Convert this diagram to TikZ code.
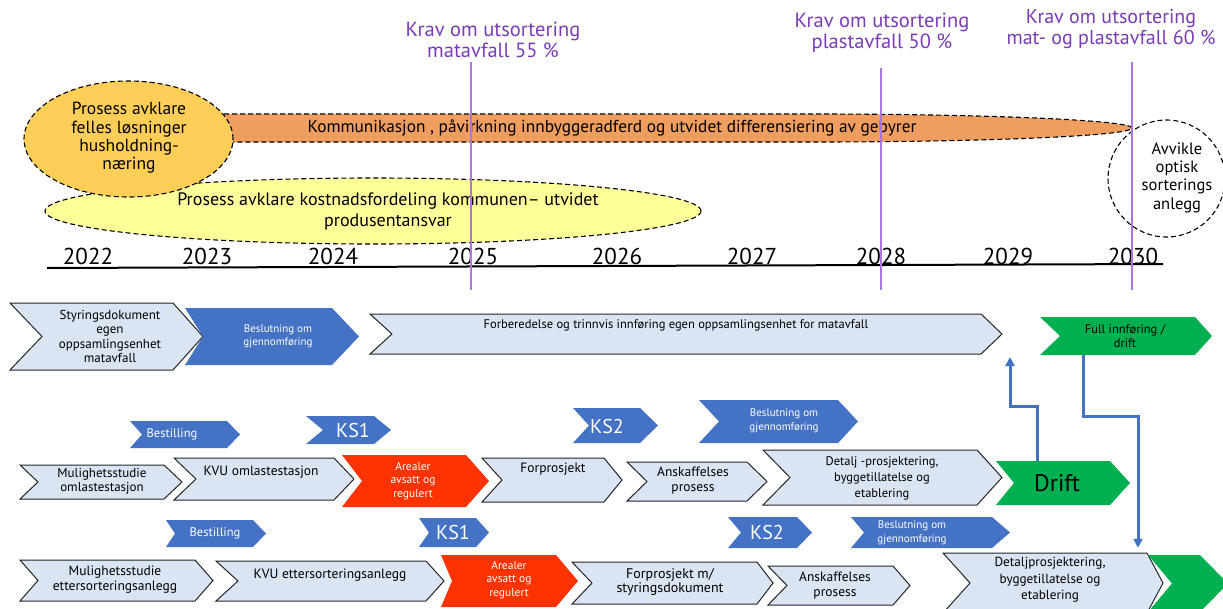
\documentclass[tikz,border=0pt]{standalone}
\usepackage{fontspec}
\setmainfont{PT Sans}
\usetikzlibrary{shapes.geometric,arrows.meta}

\definecolor{kravpurple}{RGB}{122,60,182}
\definecolor{kravline}{RGB}{170,120,220}
\definecolor{goldfill}{RGB}{255,206,86}
\definecolor{orangefill}{RGB}{239,158,96}
\definecolor{yellowfill}{RGB}{255,255,153}
\definecolor{boxblue}{RGB}{218,228,243}
\definecolor{midblue}{RGB}{68,114,196}
\definecolor{alertred}{RGB}{255,51,0}
\definecolor{okgreen}{RGB}{0,176,80}

% chevron: name, style, left x, tip x, top y, bottom y, notch x, shoulder x
\newcommand\chevshape[8]{%
  \pgfmathsetmacro\chw{#4-#3}\pgfmathsetmacro\chh{#6-#5}%
  \node[inner sep=0, minimum width=\chw pt, minimum height=\chh pt] (#1) at ({(#3+#4)/2},{(#5+#6)/2}) {};
  \path[#2] (#3,#5) -- (#8,#5) -- (#4,{(#5+#6)/2}) -- (#8,#6) -- (#3,#6) -- (#7,{(#5+#6)/2}) -- cycle;
}

\tikzset{
  lb/.style={fill=boxblue, draw=black!85, line width=1pt},
  bb/.style={fill=midblue},
  rb/.style={fill=alertred},
  gb/.style={fill=okgreen},
  btxt/.style={align=center, inner sep=0, font=\fontsize{13.5}{15}\selectfont},
  wtxt/.style={align=center, inner sep=0, text=white, font=\fontsize{11}{13.5}\selectfont},
  redtxt/.style={align=center, inner sep=0, text=white, font=\fontsize{11.5}{13.2}\selectfont},
  ordertxt/.style={inner sep=0, text=white, font=\fontsize{12.5}{13}\selectfont},
  kstxt/.style={text=white, inner sep=0, font=\fontsize{20}{22}\selectfont},
  yeartxt/.style={anchor=base, inner sep=0, font=\fontsize{23}{25}\selectfont},
  kravtxt/.style={text=kravpurple, align=center, inner sep=0, font=\fontsize{20.5}{21.5}\selectfont},
  kravrule/.style={draw=kravline, line width=1.1pt},
  dashedborder/.style={draw=black, dash pattern=on 5pt off 3pt, line width=1.1pt},
  ovaltxt/.style={align=center, inner sep=0, font=\fontsize{17.3}{18.3}\selectfont},
  conn/.style={draw=midblue, line width=3pt, -{Triangle[length=9pt,width=9pt]}},
}

\begin{document}
\begin{tikzpicture}[x=1pt, y=-1pt]
\useasboundingbox (0,0) rectangle (1223,608);
\clip (0,0) rectangle (1223,608);

% milestones
\node[kravtxt] (k25) at (493,40) {Krav om utsortering\\matavfall 55 \%};
\node[kravtxt] (k28) at (882,33) {Krav om utsortering\\plastavfall 50 \%};
\node[kravtxt, font=\fontsize{20}{21.5}\selectfont] (k30) at (1111,29) {Krav om utsortering\\mat- og plastavfall 60 \%};

% ovals
\node[ellipse, dashedborder, fill=yellowfill, minimum width=656pt, minimum height=66pt] (kost) at (373,211) {};
\node[ovaltxt, font=\fontsize{18}{21}\selectfont] (kost-t) at (388,211) {Prosess avklare kostnadsfordeling kommunen– utvidet\\produsentansvar};
\path[dashedborder, fill=orangefill] (200,114) -- (812,114)
  arc[start angle=90, end angle=-90, x radius=320pt, y radius=14pt] -- (200,142) -- cycle;
\node[ovaltxt] (komm) at (612,128) {Kommunikasjon , påvirkning innbyggeradferd og utvidet differensiering av gebyrer};
\node[ellipse, dashedborder, fill=goldfill, minimum width=209pt, minimum height=116pt] (fell) at (128.5,139) {};
\node[ovaltxt, font=\fontsize{17.5}{18.3}\selectfont] (fell-t) at (129,138) {Prosess avklare\\felles løsninger\\husholdning-\\næring};
\node[circle, dashedborder, minimum size=117pt] (avv) at (1166.5,178.5) {};
\node[ovaltxt, font=\fontsize{16.5}{18.3}\selectfont] (avv-t) at (1177,177.5) {Avvikle\\optisk\\sorterings\\anlegg};

% time axis
\draw[line width=2pt] (47,268) -- (1163,264);
\foreach \yr/\xx in {2022/88,2023/207,2024/333,2025/473,2026/617,2027/752,2028/881,2029/1008,2030/1133}
  \node[yeartxt] (y\yr) at (\xx,264) {\yr};

\draw[kravrule] (471,62) -- (471,290);
\draw[kravrule] (881,68) -- (881,290);
\draw[kravrule] (1132,62) -- (1132,290);

% row 1: food waste collection
\chevshape{styr}{lb}{10}{203}{303}{370}{42}{173}
\node[btxt, font=\fontsize{13}{14.5}\selectfont] (styr-t) at (110,336.5) {Styringsdokument\\egen\\oppsamlingsenhet\\matavfall};
\chevshape{besl1}{bb}{185}{359}{308}{365}{203}{332}
\node[wtxt] (besl1-t) at (278,336.5) {Beslutning om\\gjennomføring};
\chevshape{forb}{lb}{370}{1002}{314}{354}{392}{981}
\node[btxt, font=\fontsize{12.5}{14.5}\selectfont] (forb-t) at (676,325) {Forberedelse og trinnvis innføring egen oppsamlingsenhet for matavfall};
\chevshape{full}{gb}{1040}{1212}{317}{355}{1060}{1195}
\node[btxt, font=\fontsize{12.5}{14}\selectfont] (full-t) at (1125,336) {Full innføring /\\drift};

% row 2: milestones for transfer station
\chevshape{best1}{bb}{130}{240}{421}{448}{142}{227}
\node[ordertxt] (best1-t) at (172,434) {Bestilling};
\chevshape{ks1a}{bb}{306}{391}{416}{444}{323}{374}
\node[kstxt] (ks1a-t) at (353,430) {KS1};
\chevshape{ks2a}{bb}{573}{658}{408}{443}{589}{640}
\node[kstxt] (ks2a-t) at (607,426) {KS2};
\chevshape{besl2}{bb}{699}{858}{400}{443}{719}{838}
\node[wtxt] (besl2-t) at (784,421) {Beslutning om\\gjennomføring};

% row 3: transfer station
\chevshape{mul1}{lb}{20}{182}{465}{499}{38}{164}
\node[btxt, font=\fontsize{13}{14}\selectfont] (mul1-t) at (102,481) {Mulighetsstudie\\omlastestasjon};
\chevshape{kvu1}{lb}{174}{354}{458}{500}{196}{334}
\node[btxt] (kvu1-t) at (261,472) {KVU omlastestasjon};
\chevshape{are1}{rb}{342}{489}{455}{507}{362}{466}
\node[redtxt] (are1-t) at (413,481) {Arealer\\avsatt og\\regulert};
\chevshape{forp1}{lb}{482}{622}{458}{502}{502}{604}
\node[btxt] (forp1-t) at (553,469) {Forprosjekt};
\chevshape{ansk1}{lb}{627}{767}{462}{501}{647}{747}
\node[btxt] (ansk1-t) at (693,480.5) {Anskaffelses\\prosess};
\chevshape{det1}{lb}{763}{1002}{450}{505}{790}{977}
\node[btxt, font=\fontsize{12.5}{16}\selectfont] (det1-t) at (882,478) {Detalj -prosjektering,\\byggetillatelse og\\etablering};
\chevshape{drift}{gb}{996}{1130}{461}{505}{1014}{1110}
\node[inner sep=0, font=\fontsize{24}{26}\selectfont] (drift-t) at (1057,483) {Drift};

% row 4: milestones for post-sorting plant
\chevshape{best2}{bb}{166}{266}{520}{547}{175}{253}
\node[ordertxt] (best2-t) at (215,533) {Bestilling};
\chevshape{ks1b}{bb}{419}{489}{518}{547}{429}{476}
\node[kstxt] (ks1b-t) at (453,532) {KS1};
\chevshape{ks2b}{bb}{728}{812}{517}{548}{741}{797}
\node[kstxt] (ks2b-t) at (767,532) {KS2};
\chevshape{besl3}{bb}{851}{1010}{517}{548}{864}{992}
\node[wtxt] (besl3-t) at (912,533) {Beslutning om\\gjennomføring};

% row 5: post-sorting plant
\chevshape{mul2}{lb}{20}{213}{560}{601}{38}{195}
\node[btxt] (mul2-t) at (115,580) {Mulighetsstudie\\ettersorteringsanlegg};
\chevshape{kvu2}{lb}{216}{444}{561}{601}{238}{426}
\node[btxt] (kvu2-t) at (330,575) {KVU ettersorteringsanlegg};
\chevshape{are2}{rb}{441}{578}{555}{607}{452}{556}
\node[redtxt] (are2-t) at (509,580) {Arealer\\avsatt og\\regulert};
\chevshape{forp2}{lb}{572}{773}{562}{604}{592}{757}
\node[btxt, font=\fontsize{14}{14}\selectfont] (forp2-t) at (670,582) {Forprosjekt m/\\styringsdokument};
\chevshape{ansk2}{lb}{768}{910}{566}{605}{787}{893}
\node[btxt] (ansk2-t) at (835,585.5) {Anskaffelses\\prosess};
\chevshape{det2}{lb}{943}{1163}{553}{613}{970}{1147}
\node[btxt, font=\fontsize{13.2}{16.5}\selectfont] (det2-t) at (1050,580) {Detaljprosjektering,\\byggetillatelse og\\etablering};
\chevshape{gend}{gb}{1148}{1228}{555}{612}{1172}{1200}

% links between the tracks
\coordinate (u1) at (1037,406);
\coordinate (u2) at (1010,406);
\coordinate (u3) at (1010,357);
\draw[conn] (u1 |- drift.north) -- (u1) -- (u2) -- (u3);
\coordinate (d1) at (1083,416);
\coordinate (d2) at (1138,416);
\draw[conn, shorten >=7pt] (d1 |- full.south) -- (d1) -- (d2) -- (d2 |- gend.north);
\end{tikzpicture}
\end{document}
